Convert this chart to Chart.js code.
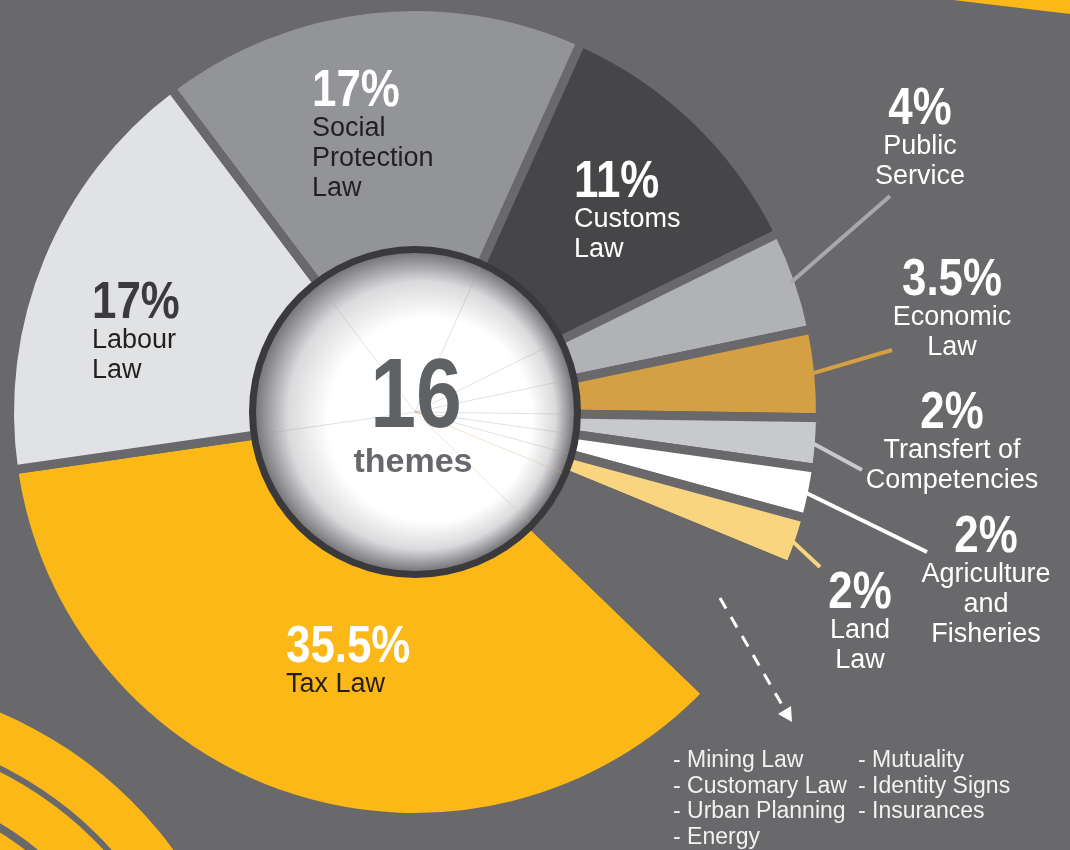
<!DOCTYPE html>
<html>
<head>
<meta charset="utf-8">
<script src="https://cdn.jsdelivr.net/npm/chart.js@4.4.1/dist/chart.umd.min.js"></script>
<style>
  html, body { margin: 0; padding: 0; background: #69686b; overflow: hidden; }
  canvas { display: block; }
</style>
</head>
<body>
<canvas id="themes" width="1070" height="850"></canvas>
<script>
// data
var categories = ['Tax Law', 'Labour Law', 'Social Protection Law', 'Customs Law', 'Public Service',
                  'Economic Law', 'Transfert of Competencies', 'Agriculture and Fisheries', 'Land Law', 'Other themes'];
var shares = [35.5, 17, 17, 11, 4, 3.5, 2, 2, 2, 6];
var pctLabels = ['35.5%', '17%', '17%', '11%', '4%', '3.5%', '2%', '2%', '2%', ''];
var labelLines = [['Tax Law'], ['Labour', 'Law'], ['Social', 'Protection', 'Law'], ['Customs', 'Law'],
                  ['Public', 'Service'], ['Economic', 'Law'], ['Transfert of', 'Competencies'],
                  ['Agriculture', 'and', 'Fisheries'], ['Land', 'Law'], []];
var otherThemesCol1 = ['Mining Law', 'Customary Law', 'Urban Planning', 'Energy'];
var otherThemesCol2 = ['Mutuality', 'Identity Signs', 'Insurances'];
var themeCount = '16';

var BG = '#69686b', YELLOW = '#fbb817';
var colors = ['#fbb817', '#e1e2e4', '#939497', '#464648', '#b1b2b4', '#d4a043', '#c8c9cb', '#ffffff', '#f9d57f', 'rgba(0,0,0,0)'];

// where each label sits (layout only)
var labelPos = [
  { x: 286, y: 662, align: 'left', pct: '#ffffff', txt: '#231f20' },
  { x: 92, y: 318, align: 'left', pct: '#3b3b3d', txt: '#231f20' },
  { x: 312, y: 106, align: 'left', pct: '#ffffff', txt: '#231f20' },
  { x: 574, y: 197, align: 'left', pct: '#ffffff', txt: '#ffffff' },
  { x: 920, y: 124, align: 'center', pct: '#ffffff', txt: '#ffffff', lead: [890, 196] },
  { x: 952, y: 295, align: 'center', pct: '#ffffff', txt: '#ffffff', lead: [892, 350] },
  { x: 952, y: 428, align: 'center', pct: '#ffffff', txt: '#ffffff', lead: [862, 470] },
  { x: 986, y: 552, align: 'center', pct: '#ffffff', txt: '#ffffff', lead: [927, 552] },
  { x: 860, y: 608, align: 'center', pct: '#ffffff', txt: '#ffffff', lead: [820, 567] }
];

var SANS = "'Liberation Sans', Arial, sans-serif";

// bold text squeezed sideways to look like a condensed face
function condensed(ctx, text, x, y, size, squeeze) {
  ctx.save();
  ctx.translate(x, y);
  ctx.scale(squeeze, 1);
  ctx.font = 'bold ' + size + 'px ' + SANS;
  ctx.fillText(text, 0, 0);
  ctx.restore();
}

var backdrop = {
  id: 'backdrop',
  beforeDraw: function (chart) {
    var ctx = chart.ctx;
    ctx.save();
    ctx.fillStyle = BG;
    ctx.fillRect(0, 0, chart.width, chart.height);
    ctx.fillStyle = YELLOW;
    // stripe in the top right corner
    ctx.beginPath();
    ctx.moveTo(953, 0); ctx.lineTo(1070, 0); ctx.lineTo(1070, 14); ctx.closePath();
    ctx.fill();
    // rings in the bottom left corner
    [[414, 366], [360, 315], [307, 0]].forEach(function (r) {
      ctx.beginPath();
      ctx.arc(-161, 1094, r[0], 0, Math.PI * 2);
      if (r[1]) ctx.arc(-161, 1094, r[1], 0, Math.PI * 2);
      ctx.fill('evenodd');
    });
    ctx.restore();
  }
};

var decorations = {
  id: 'decorations',
  afterDatasetsDraw: function (chart) {
    var ctx = chart.ctx;
    var arcs = chart.getDatasetMeta(0).data;
    var first = arcs[0].getProps(['x', 'y', 'outerRadius']);
    var cx = first.x, cy = first.y;

    ctx.save();
    // leader lines from the small slices
    labelPos.forEach(function (p, i) {
      if (!p.lead) return;
      var a = arcs[i].getProps(['startAngle', 'endAngle', 'outerRadius']);
      var mid = (a.startAngle + a.endAngle) / 2;
      var r = a.outerRadius - 8;
      ctx.strokeStyle = i === 4 ? '#a7a8aa' : colors[i];
      ctx.lineWidth = 4;
      ctx.beginPath();
      ctx.moveTo(cx + r * Math.cos(mid), cy + r * Math.sin(mid));
      ctx.lineTo(p.lead[0], p.lead[1]);
      ctx.stroke();
    });

    // centre disc
    ctx.beginPath();
    ctx.arc(cx, cy, 166, 0, Math.PI * 2);
    ctx.fillStyle = '#3a3a3c';
    ctx.fill();
    var g = ctx.createRadialGradient(cx + 30, cy + 16, 45, cx, cy, 159);
    g.addColorStop(0, '#ffffff');
    g.addColorStop(0.5, '#ffffff');
    g.addColorStop(0.78, '#dadadc');
    g.addColorStop(1, '#78787a');
    ctx.beginPath();
    ctx.arc(cx, cy, 159, 0, Math.PI * 2);
    ctx.fillStyle = g;
    ctx.fill();

    // faint slice boundaries through the disc
    ctx.save();
    ctx.clip();
    ctx.lineWidth = 0.8;
    arcs.forEach(function (arc, i) {
      var a = arc.getProps(['startAngle']);
      ctx.strokeStyle = i === 0 || i === 9 ? 'rgba(214,180,120,0.45)' : 'rgba(160,160,160,0.4)';
      ctx.beginPath();
      ctx.moveTo(cx, cy);
      ctx.lineTo(cx + 160 * Math.cos(a.startAngle), cy + 160 * Math.sin(a.startAngle));
      ctx.stroke();
    });
    ctx.restore();

    // centre text
    ctx.textAlign = 'center';
    ctx.textBaseline = 'alphabetic';
    ctx.fillStyle = '#5e6264';
    condensed(ctx, themeCount, cx + 1, 427, 98, 0.84);
    ctx.fillStyle = '#67686b';
    ctx.font = 'bold 34px ' + SANS;
    ctx.fillText('themes', cx - 2, 472);

    // slice labels
    labelPos.forEach(function (p, i) {
      ctx.textAlign = p.align;
      ctx.fillStyle = p.pct;
      condensed(ctx, pctLabels[i], p.x, p.y, 51, 0.86);
      ctx.fillStyle = p.txt;
      ctx.font = '27px ' + SANS;
      labelLines[i].forEach(function (t, k) {
        ctx.fillText(t, p.x, p.y + 30 * (k + 1));
      });
    });

    // dashed arrow toward the other themes
    ctx.strokeStyle = '#ffffff';
    ctx.fillStyle = '#ffffff';
    ctx.lineWidth = 3;
    ctx.setLineDash([12, 10]);
    ctx.beginPath();
    ctx.moveTo(720, 598);
    ctx.lineTo(785, 710);
    ctx.stroke();
    ctx.setLineDash([]);
    ctx.beginPath();
    ctx.moveTo(792, 722);
    ctx.lineTo(791, 706);
    ctx.lineTo(778, 714);
    ctx.closePath();
    ctx.fill();

    // list of the other themes
    ctx.textAlign = 'left';
    ctx.fillStyle = '#f2f2f2';
    ctx.font = '23px ' + SANS;
    otherThemesCol1.forEach(function (t, k) { ctx.fillText('- ' + t, 673, 767 + 25.7 * k); });
    otherThemesCol2.forEach(function (t, k) { ctx.fillText('- ' + t, 858, 767 + 25.7 * k); });
    ctx.restore();
  }
};

new Chart(document.getElementById('themes'), {
  type: 'doughnut',
  data: {
    labels: categories,
    datasets: [{
      data: shares,
      backgroundColor: colors,
      borderColor: BG,
      borderWidth: 9,
      borderJoinStyle: 'miter'
    }]
  },
  options: {
    responsive: false,
    devicePixelRatio: 1,
    animation: false,
    events: [],
    rotation: 134,
    cutout: '37%',
    layout: { padding: { left: 5, top: 2, right: 245, bottom: 28 } },
    plugins: { legend: { display: false }, tooltip: { enabled: false } }
  },
  plugins: [backdrop, decorations]
});
</script>
</body>
</html>
